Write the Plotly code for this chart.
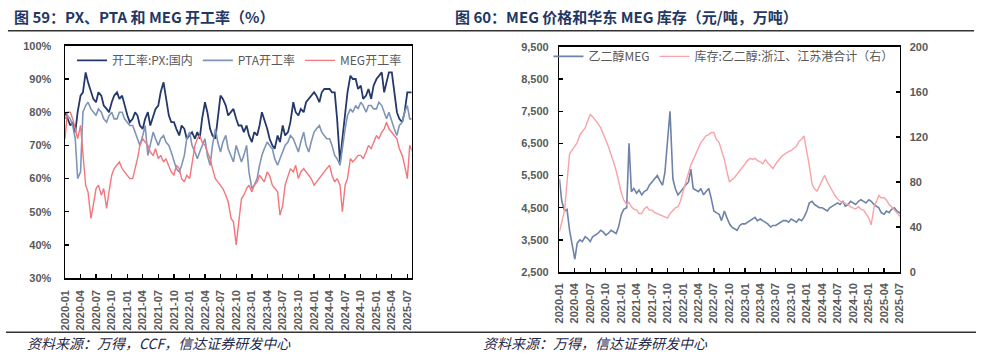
import pandas as pd
import plotly.graph_objects as go

# ---------------- Left chart data (semi-monthly, %) ----------------
px_rate = [80, 78, 76, 77, 74, 80, 85, 86, 92, 89, 86, 84, 83, 86, 85, 82, 81, 80, 83, 85,
           86, 84, 85, 82, 79, 77, 78, 80, 79, 76, 75, 78, 80, 76, 79, 81, 82, 86, 89, 85,
           79, 77, 77, 75, 73, 76, 75, 72, 73, 74, 72, 74, 72, 78, 83, 80, 75, 73, 72, 78,
           85, 84, 82, 79, 80, 81, 78, 76, 76, 74, 76, 73, 71, 74, 73, 76, 80, 78, 75, 72,
           70, 69, 73, 71, 76, 73, 74, 77, 83, 80, 79, 81, 80, 83, 84, 85, 86, 85, 83, 86,
           87, 87, 87, 86, 86, 78, 65, 72, 80, 86, 91, 90, 90, 87, 88, 84, 85, 87, 84, 88,
           90, 91, 92, 86, 89, 92, 92, 86, 80, 78, 77, 80, 86, 86, 86]
pta_rate = [78, 79, 78, 76, 72, 60, 62, 80, 82, 83, 81, 80, 79, 81, 80, 78, 77, 79, 80, 78,
            78, 80, 80, 78, 77, 76, 76, 74, 72, 70, 73, 76, 67, 70, 74, 72, 70, 72, 73, 71,
            70, 68, 65, 63, 62, 64, 67, 72, 74, 70, 68, 66, 68, 70, 72, 67, 64, 70, 75, 71,
            68, 71, 73, 69, 67, 65, 70, 68, 65, 67, 70, 62, 57, 58, 60, 64, 67, 69, 71, 70,
            69, 66, 64, 66, 68, 70, 71, 73, 72, 70, 68, 71, 74, 70, 68, 71, 74, 75, 76, 74,
            73, 72, 72, 70, 67, 66, 64, 70, 75, 79, 81, 80, 82, 81, 83, 82, 80, 82, 82, 81,
            81, 83, 82, 80, 78, 80, 77, 75, 73, 76, 77, 80, 82, 78, 78]
meg_rate = [72, 80, 80, 78, 75, 72, 76, 68, 58, 56, 48, 52, 57, 58, 55, 57, 51, 56, 61, 63,
            64, 65, 63, 62, 61, 60, 60, 63, 66, 70, 72, 71, 70, 68, 67, 69, 66, 67, 65, 66,
            64, 62, 61, 64, 63, 60, 59, 61, 60, 65, 70, 72, 73, 71, 70, 68, 66, 63, 60, 59,
            58, 57, 55, 53, 48, 47, 40, 47, 54, 55, 57, 58, 56, 58, 59, 61, 60, 59, 62, 61,
            58, 57, 56, 49, 52, 58, 61, 63, 62, 64, 60, 62, 63, 62, 61, 60, 58, 59, 60, 61,
            62, 63, 64, 61, 59, 60, 58, 50, 58, 60, 66, 65, 66, 67, 67, 66, 68, 70, 69, 71,
            73, 72, 74, 75, 77, 75, 74, 73, 72, 69, 67, 64, 60, 70, 68]

# ---------------- Right chart data (semi-monthly) ----------------
meg_price = [5400, 4700, 4400, 4450, 3800, 3400, 2900, 3400, 3500, 3450, 3600, 3550, 3450, 3600,
             3650, 3700, 3800, 3750, 3650, 3700, 3800, 3750, 3700, 3900, 4300, 4450, 4500, 6500,
             5000, 5100, 4950, 5050, 4900, 5000, 5050, 5200, 5300, 5400, 5500, 5350, 5200, 5600,
             6500, 7500, 5400, 5100, 4900, 5000, 5100, 5200, 5300, 5700, 5100, 5050, 5000, 5100,
             4900, 5000, 5100, 4800, 4400, 4350, 4300, 4100, 4400, 4200, 4000, 3900, 3850, 3800,
             3950, 4000, 4000, 4050, 4100, 4150, 4200, 4100, 4150, 4100, 4050, 4000, 3900, 3950,
             3950, 4000, 4050, 4100, 4100, 4050, 4150, 4100, 4050, 4150, 4100, 4200, 4400, 4650,
             4700, 4600, 4550, 4500, 4500, 4450, 4400, 4500, 4550, 4600, 4650, 4600, 4700, 4550,
             4600, 4700, 4650, 4600, 4700, 4750, 4700, 4650, 4750, 4700, 4600, 4550, 4500, 4350,
             4300, 4400, 4350, 4450, 4500, 4400, 4350, 4300]
meg_stock = [36, 45, 55, 80, 105, 108, 112, 115, 122, 125, 128, 134, 140, 138, 135, 132, 128, 122,
             117, 112, 105, 98, 90, 80, 70, 64, 60, 62, 58, 56, 55, 52, 52, 56, 58, 55, 55, 53,
             52, 51, 50, 49, 48, 52, 55, 57, 58, 63, 72, 80, 88, 95, 100, 105, 110, 115, 118, 121,
             122, 124, 124, 118, 115, 108, 100, 90, 80, 82, 84, 87, 90, 92, 96, 99, 101, 100, 101,
             99, 98, 96, 100, 97, 94, 92, 96, 99, 102, 104, 106, 107, 108, 110, 112, 116, 118, 121,
             108, 95, 78, 74, 72, 76, 82, 86, 80, 76, 72, 68, 65, 63, 62, 61, 60, 58, 57, 56, 58,
             56, 55, 52, 48, 42, 58, 63, 68, 66, 66, 64, 60, 58, 55, 52, 50, 48]

dates_left = pd.date_range("2020-01-01", periods=len(px_rate), freq="SMS")
dates_right = pd.date_range("2020-01-01", periods=len(meg_price), freq="SMS")

W, H = 981, 355
SX, SY = 0.99, 0.965  # layout spread factors


def px_x(p):
    return (490.5 + (p - 490.5) / SX) / W


def px_y(p):
    return 1 - (177.5 + (p - 177.5) / SY) / H


fig = go.Figure()
fig.add_trace(go.Scatter(x=dates_left, y=px_rate, name="开工率:PX:国内", mode="lines",
                         line=dict(color="#24386A", width=1.8), xaxis="x", yaxis="y", legend="legend"))
fig.add_trace(go.Scatter(x=dates_left, y=pta_rate, name="PTA开工率", mode="lines",
                         line=dict(color="#7F95B8", width=1.6), xaxis="x", yaxis="y", legend="legend"))
fig.add_trace(go.Scatter(x=dates_left, y=meg_rate, name="MEG开工率", mode="lines",
                         line=dict(color="#F2767C", width=1.4), xaxis="x", yaxis="y", legend="legend"))
fig.add_trace(go.Scatter(x=dates_right, y=meg_price, name="乙二醇MEG", mode="lines",
                         line=dict(color="#6F82A8", width=1.6), xaxis="x2", yaxis="y2", legend="legend2"))
fig.add_trace(go.Scatter(x=dates_right, y=meg_stock, name="库存:乙二醇:浙江、江苏港合计（右）", mode="lines",
                         line=dict(color="#F7A3A7", width=1.4), xaxis="x2", yaxis="y3", legend="legend2"))

tickfont = dict(family="Liberation Sans, Arial", size=11, color="#595959", weight="bold")
axis_common = dict(showline=True, linecolor="black", linewidth=1.5, ticks="inside", ticklen=4,
                   tickwidth=1.3, tickcolor="black", showgrid=False, zeroline=False,
                   tickfont=tickfont)

fig.update_layout(
    width=W, height=H, autosize=False,
    margin=dict(l=0, r=0, t=0, b=0),
    paper_bgcolor="white", plot_bgcolor="white",
    xaxis=dict(domain=[px_x(64), px_x(411)], type="date", range=["2020-01-01", "2025-07-26"],
               tick0="2020-01-01", dtick="M3", tickformat="%Y-%m", tickangle=-90,
               mirror=True, anchor="y", ticklabelstandoff=6, **axis_common),
    yaxis=dict(domain=[px_y(278), px_y(46)], range=[30, 100], dtick=10, ticksuffix="%",
               mirror=True, anchor="x", ticklabelstandoff=10, **axis_common),
    xaxis2=dict(domain=[px_x(559), px_x(900)], type="date", range=["2020-01-01", "2025-07-04"],
                tick0="2020-01-01", dtick="M3", tickformat="%Y-%m", tickangle=-90,
                mirror=True, anchor="y2", ticklabelstandoff=5, **axis_common),
    yaxis2=dict(domain=[px_y(272), px_y(47)], range=[2500, 9500], tick0=2500, dtick=1000,
                tickformat=",", anchor="x2", ticklabelstandoff=7, **axis_common),
    yaxis3=dict(range=[0, 200], tick0=0, dtick=40, overlaying="y2", side="right", anchor="x2",
                ticklabelstandoff=6, **axis_common),
    legend=dict(orientation="h", x=px_x(71), y=px_y(46), xanchor="left", yanchor="top",
                bgcolor="rgba(0,0,0,0)", font=dict(family="Noto Sans CJK SC", size=12, color="#595959"),
                itemwidth=30, tracegroupgap=0),
    legend2=dict(orientation="h", x=px_x(548), y=px_y(42), xanchor="left", yanchor="top",
                 bgcolor="rgba(0,0,0,0)", font=dict(family="Noto Sans CJK SC", size=12, color="#595959"),
                 itemwidth=30, tracegroupgap=0),
    showlegend=True,
)

title_font = dict(family="Noto Sans CJK SC", size=15, color="#1F3864", weight="bold")
src_font = dict(family="Noto Sans CJK SC", size=14, color="#1F2A4A")
fig.add_annotation(text="图 59：PX、PTA 和 MEG 开工率（%）", x=px_x(11), y=px_y(17),
                   xref="paper", yref="paper", xanchor="left", yanchor="middle",
                   showarrow=False, font=title_font)
fig.add_annotation(text="图 60：MEG 价格和华东 MEG 库存（元/吨，万吨）", x=px_x(452), y=px_y(17),
                   xref="paper", yref="paper", xanchor="left", yanchor="middle",
                   showarrow=False, font=title_font)
fig.add_annotation(text="<i>资料来源：万得，CCF，信达证券研发中心</i>", x=px_x(24), y=px_y(343),
                   xref="paper", yref="paper", xanchor="left", yanchor="middle",
                   showarrow=False, font=src_font)
fig.add_annotation(text="<i>资料来源：万得，信达证券研发中心</i>", x=px_x(480), y=px_y(343),
                   xref="paper", yref="paper", xanchor="left", yanchor="middle",
                   showarrow=False, font=src_font)

fig.add_shape(type="line", xref="paper", yref="paper", x0=0.002, x1=0.998,
              y0=px_y(31), y1=px_y(31), line=dict(color="#333333", width=1.5))
fig.add_shape(type="line", xref="paper", yref="paper", x0=0, x1=1,
              y0=px_y(332), y1=px_y(332), line=dict(color="#333333", width=1.5))

pin_script = (
    "document.documentElement.style.margin='0';document.documentElement.style.overflow='hidden';"
    "document.body.style.margin='0';document.body.style.overflow='hidden';"
    "var gd=document.getElementById('{plot_id}');"
    "gd.style.position='fixed';gd.style.left='0px';gd.style.top='0px';"
)
fig.write_html("out.html", config={"displayModeBar": False, "staticPlot": True},
               post_script=pin_script)
